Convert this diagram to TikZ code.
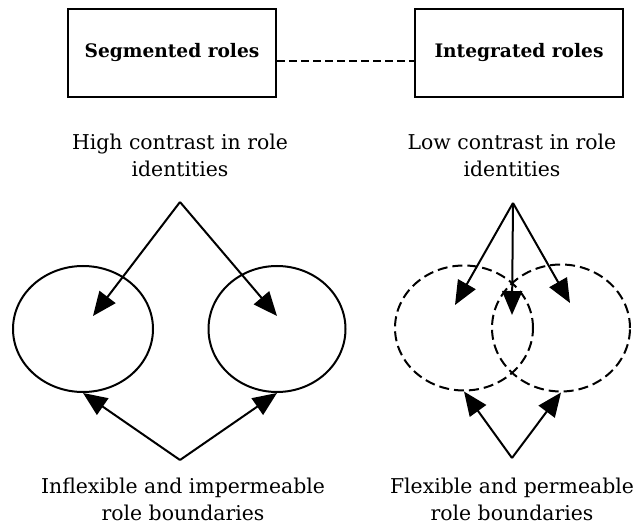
\documentclass[tikz,border=0pt]{standalone}
\usepackage{fontspec}
\setmainfont{DejaVu Serif}
\usetikzlibrary{positioning}
\usetikzlibrary{arrows.meta, shapes.geometric}

\begin{document}
\begin{tikzpicture}[x=0.5pt,y=-0.5pt,
rolebox/.style={draw,line width=1pt,minimum width=104pt,minimum height=44pt,inner sep=0pt,font=\bfseries\fontsize{9.3}{11}\selectfont},
caption/.style={align=center,inner sep=0pt,font=\fontsize{10.2}{13.4}\selectfont},
ring/.style={ellipse,draw,line width=1pt,inner sep=0pt},
pointer/.style={line width=1pt,-{Triangle[length=12pt,width=10pt]}}]
\useasboundingbox (0,0) rectangle (638,524);

% the two role types
\node[rolebox] (S) at (172,53) {Segmented roles};
\node[rolebox] (I) at (519,53) {Integrated roles};
\draw[line width=1pt,dash pattern=on 4pt off 2pt] ([yshift=-4pt]S.east) -- ([yshift=-4pt]I.west);

\node[caption] (hc) at (180,155) {High contrast in role\\identities};
\node[caption] (lc) at (512,155) {Low contrast in role\\identities};

% segmented side
\node[ring,minimum width=70pt,minimum height=63pt] (sa) at (83,329) {};
\node[ring,minimum width=68.5pt,minimum height=63pt] (sb) at (277,329) {};
\coordinate (stop) at (180,202);
\coordinate (sbot) at (180,460);
\draw[pointer] (stop) -- (93,316);
\draw[pointer] (stop) -- (277,316);
\draw[pointer] (sbot) -- (sa.south);
\draw[pointer] (sbot) -- (sb.south);
\node[caption] (ib) at (183,499) {Inflexible and impermeable\\role boundaries};

% integrated side
\node[ring,dash pattern=on 5pt off 2.5pt,minimum width=69pt,minimum height=62.5pt] (ia) at (464,328) {};
\node[ring,dash pattern=on 5pt off 2.5pt,minimum width=69pt,minimum height=63.5pt] (ib2) at (561,328) {};
\coordinate (itop) at (513,203);
\coordinate (ibot) at (512,458);
\draw[pointer] (itop) -- (455,305);
\draw[pointer] (itop) -- (512,315);
\draw[pointer] (itop) -- (570,303);
\draw[pointer] (ibot) -- (ia.south);
\draw[pointer] (ibot) -- (ib2.south);
\node[caption] (fb) at (512,499) {Flexible and permeable\\role boundaries};

\end{tikzpicture}
\end{document}
